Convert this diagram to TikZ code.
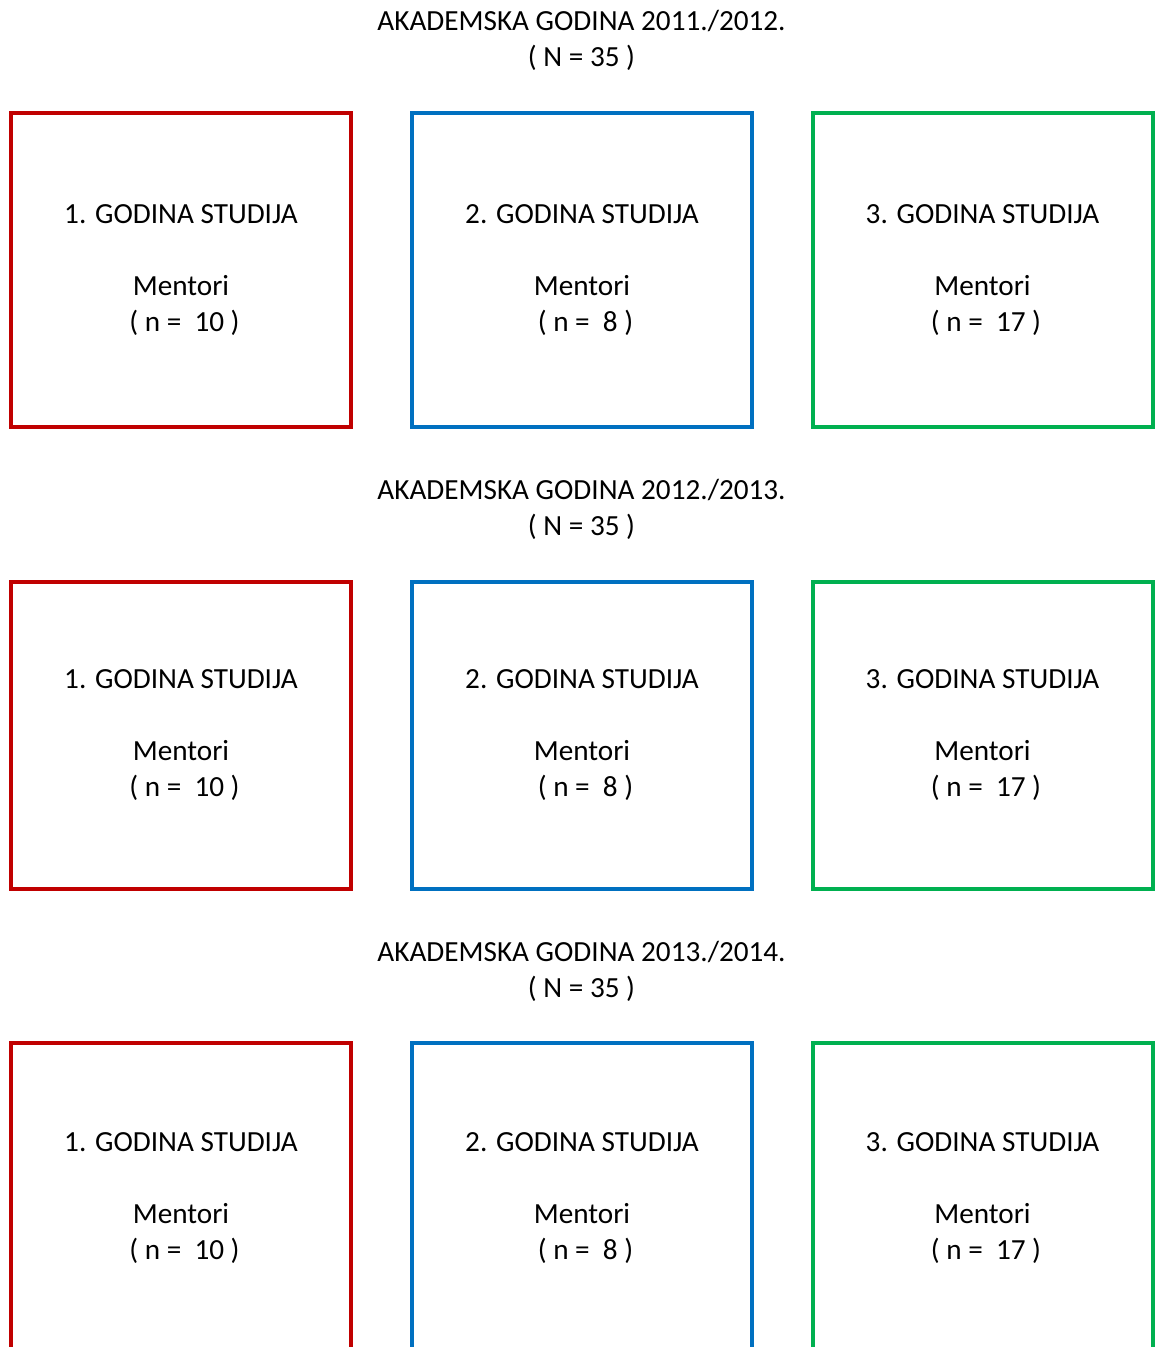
\documentclass[tikz,border=0pt]{standalone}
\usepackage{fontspec}
\setmainfont{Carlito}
\usetikzlibrary{positioning}
\definecolor{crvena}{HTML}{C00000}
\definecolor{plava}{HTML}{0070C0}
\definecolor{zelena}{HTML}{00B050}
\newcommand\kutija[6]{% name, colour, x, y, height, text
\node[kutija, draw=#2, minimum height=#5] (#1) at (#3,#4) {#6};
}

\begin{document}
\begin{tikzpicture}[x=0.5pt,y=-0.5pt,
	every node/.style={font=\fontsize{14.6}{18}\selectfont, align=center},
	kutija/.style={line width=2pt, minimum width=170pt, inner sep=0pt}]
	%% page size
	\useasboundingbox (0,0) rectangle (1155,1347);
	\clip (0,0) rectangle (1155,1347);
	
	\def\xA{181} % first column
	\def\xB{582} % second column
	\def\xC{982.5} % third column
	
	% one row for each academic year
	\foreach \god/\ytitle/\ybox/\h [count=\i] in {{2011./2012.}/40/270/157pt, {2012./2013.}/509/735.5/153.5pt, {2013./2014.}/971/1198/155pt}{
		\node (naslov\i) at (581.5,\ytitle) {AKADEMSKA GODINA \god\\( N = 35 )};
		
		\kutija{prva\i}{crvena}{\xA}{\ybox}{\h}{1. GODINA STUDIJA\\[18pt]Mentori\\\hspace*{3.5pt}( n =~ 10 )}
		\kutija{druga\i}{plava}{\xB}{\ybox}{\h}{2. GODINA STUDIJA\\[18pt]Mentori\\\hspace*{3.5pt}( n =~ 8 )}
		\kutija{treca\i}{zelena}{\xC}{\ybox}{\h}{3. GODINA STUDIJA\\[18pt]Mentori\\\hspace*{3.5pt}( n =~ 17 )}
	}
\end{tikzpicture}
\end{document}
